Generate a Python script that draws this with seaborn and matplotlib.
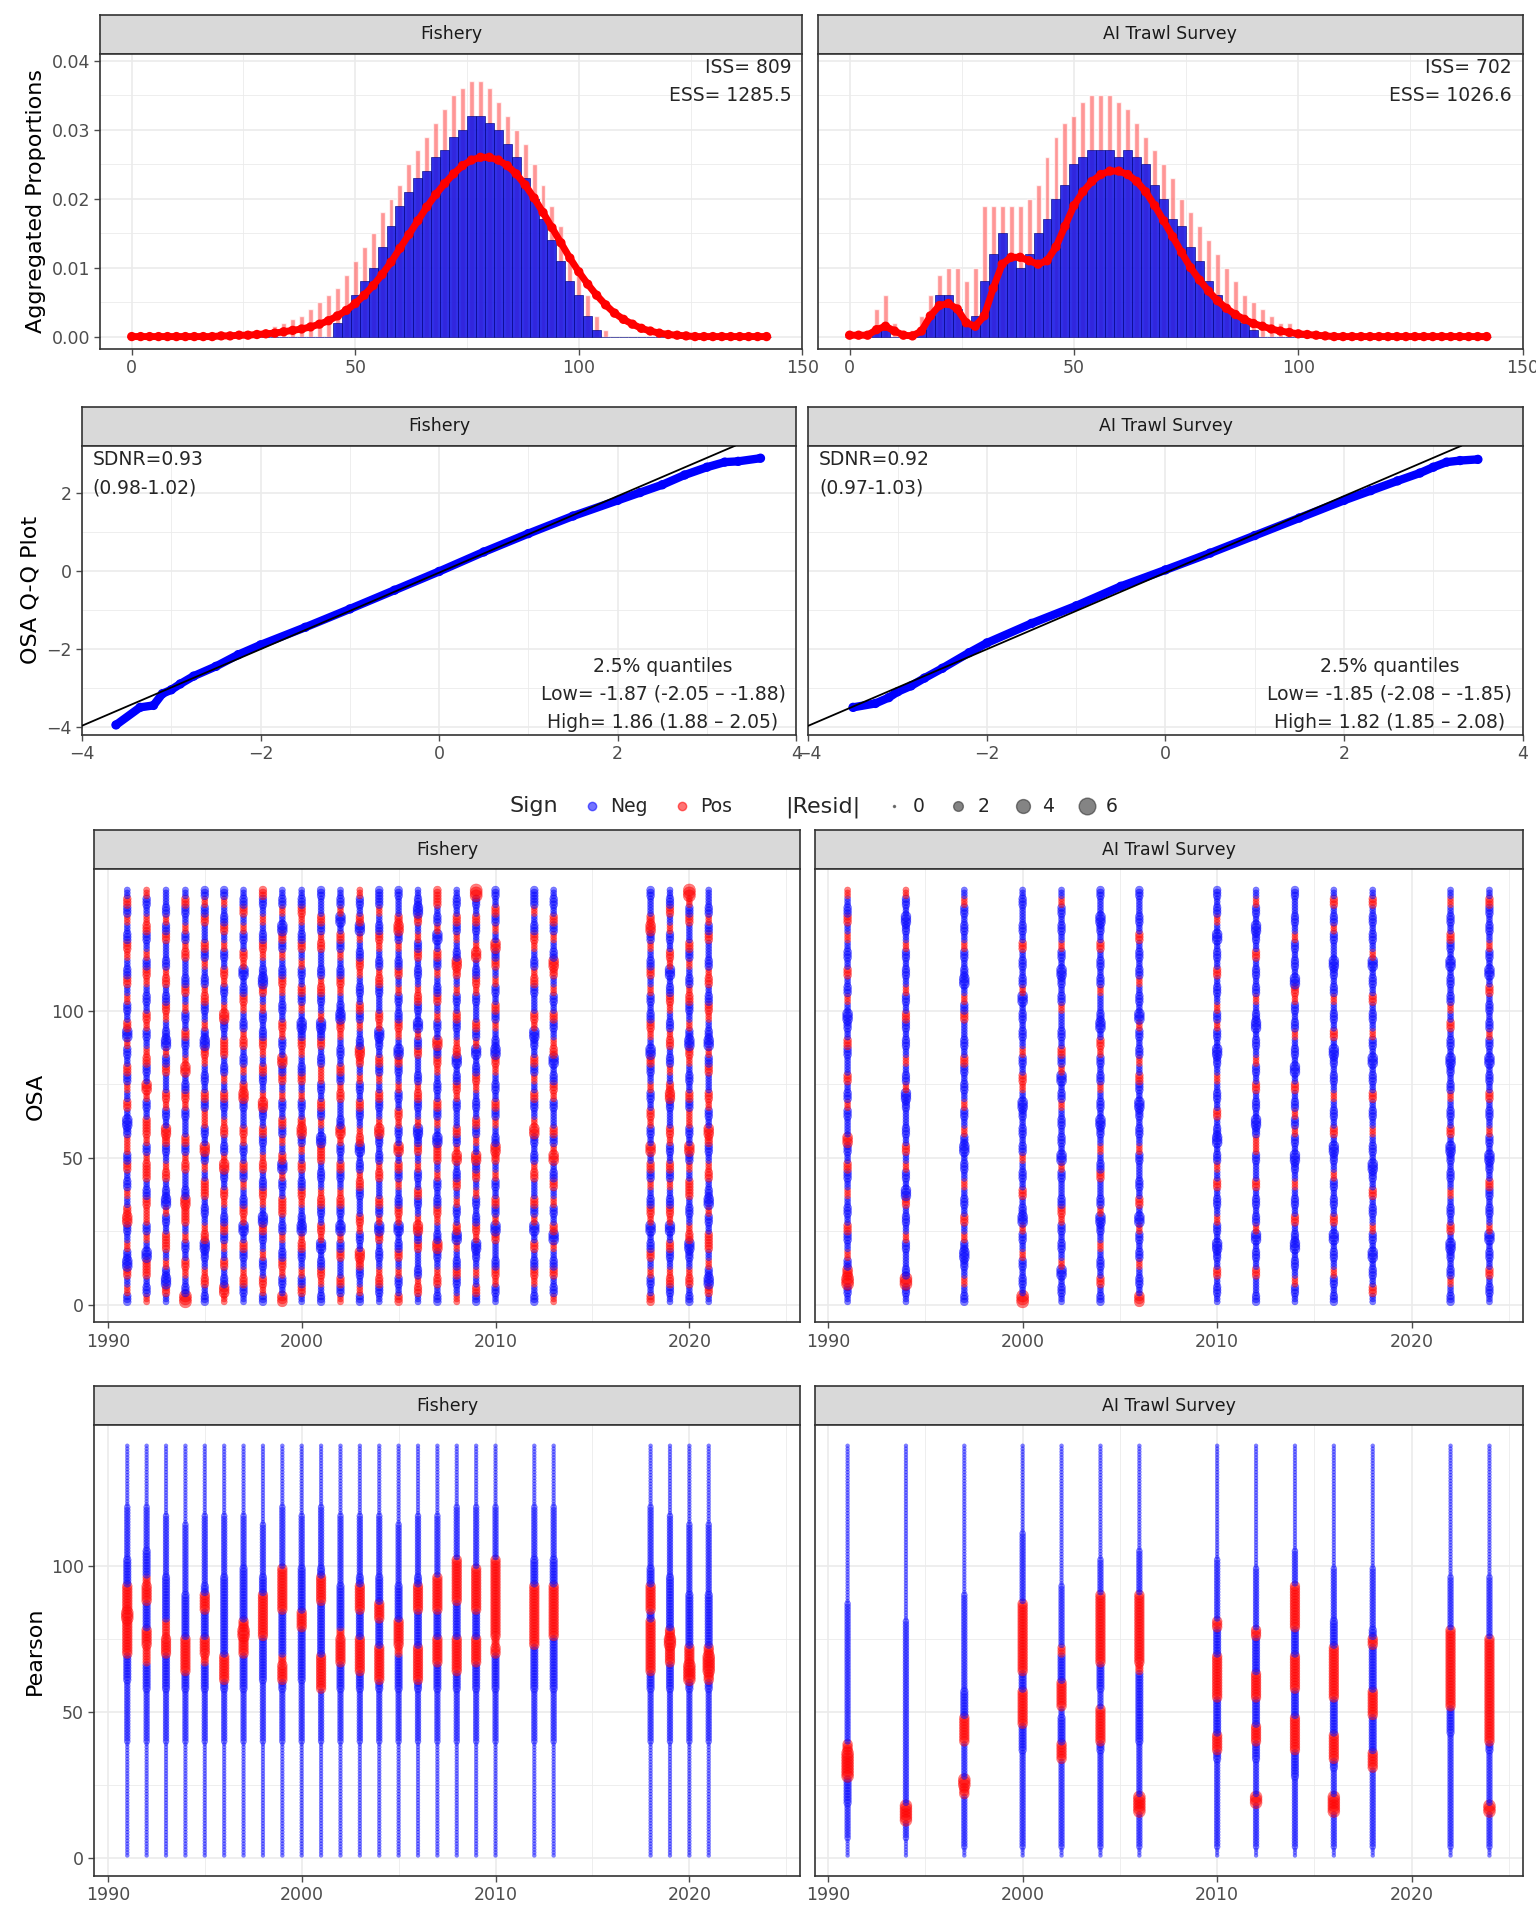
import numpy as np
import pandas as pd
import matplotlib
matplotlib.use("Agg")
import matplotlib.pyplot as plt
import seaborn as sns
from matplotlib.lines import Line2D

# ---------------- data ----------------
len_bins = np.arange(0, 143, 2)

fish_obs = [0]*23 + [0.002, 0.004, 0.006, 0.008, 0.01, 0.013, 0.016, 0.019, 0.021, 0.023, 0.024, 0.026,
                     0.027, 0.029, 0.03, 0.032, 0.032, 0.031, 0.03, 0.028, 0.026, 0.023, 0.02, 0.017,
                     0.014, 0.011, 0.008, 0.006, 0.003, 0.001] + [0]*19
fish_hi = [0]*14 + [0.0005, 0.001, 0.0015, 0.002, 0.0025, 0.003, 0.004, 0.005, 0.006, 0.007, 0.009, 0.011,
                    0.013, 0.015, 0.018, 0.02, 0.022, 0.025, 0.027, 0.029, 0.031, 0.033, 0.035, 0.036,
                    0.037, 0.037, 0.036, 0.034, 0.032, 0.03, 0.028, 0.025, 0.022, 0.019, 0.016, 0.012,
                    0.009, 0.006, 0.003, 0.001] + [0]*18
fish_pred = [0]*10 + [0.0001, 0.0001, 0.0002, 0.0002, 0.0003, 0.0004, 0.0005, 0.0007, 0.0009, 0.0011,
                      0.0014, 0.0018, 0.0023, 0.003, 0.0038, 0.0048, 0.006, 0.0074, 0.009, 0.0108, 0.0128,
                      0.0148, 0.0168, 0.0188, 0.0206, 0.0222, 0.0236, 0.0248, 0.0256, 0.026, 0.026, 0.0256,
                      0.0248, 0.0236, 0.022, 0.0201, 0.018, 0.0158, 0.0136, 0.0114, 0.0094, 0.0076, 0.006,
                      0.0046, 0.0034, 0.0025, 0.0018, 0.0012, 0.0008, 0.0005, 0.0003, 0.0002, 0.0001] + [0]*9

srv_obs = [0, 0, 0, 0.001, 0.001, 0, 0, 0, 0.001, 0.003, 0.006, 0.006, 0.004, 0.002, 0.003, 0.008, 0.012,
           0.015, 0.012, 0.01, 0.012, 0.015, 0.017, 0.02, 0.022, 0.025, 0.026, 0.027, 0.027, 0.027, 0.026,
           0.027, 0.026, 0.025, 0.022, 0.02, 0.017, 0.016, 0.013, 0.011, 0.008, 0.006, 0.004, 0.003, 0.002,
           0.001] + [0]*26
srv_hi = [0, 0, 0, 0.004, 0.006, 0.002, 0.001, 0.001, 0.003, 0.006, 0.009, 0.01, 0.01, 0.008, 0.01, 0.019,
          0.019, 0.019, 0.019, 0.019, 0.02, 0.022, 0.026, 0.029, 0.031, 0.032, 0.034, 0.035, 0.035, 0.035,
          0.034, 0.033, 0.031, 0.029, 0.027, 0.025, 0.023, 0.02, 0.018, 0.016, 0.014, 0.012, 0.01, 0.008,
          0.006, 0.005, 0.004, 0.003, 0.002, 0.002, 0.001, 0.001, 0.0005, 0.0003] + [0]*18
srv_pred = [0.0002, 0.0002, 0.0002, 0.001, 0.0015, 0.0008, 0.0002, 0.0001, 0.0008, 0.003, 0.0045, 0.0048,
            0.004, 0.002, 0.0015, 0.003, 0.007, 0.0105, 0.0115, 0.0115, 0.011, 0.0105, 0.011, 0.013, 0.016,
            0.019, 0.021, 0.0225, 0.0235, 0.024, 0.024, 0.0235, 0.0225, 0.021, 0.019, 0.0168, 0.0145,
            0.0122, 0.01, 0.0082, 0.0066, 0.0052, 0.0041, 0.0032, 0.0025, 0.0019, 0.0015, 0.0011, 0.0008,
            0.0006, 0.0004, 0.0003, 0.0002, 0.0001] + [0]*18

fish_qq_x = [-3.62, -3.35, -3.2, -3.1, -3.0, -2.9, -2.75, -2.5, -2.25, -2.0, -1.5, -1.0, -0.5, 0.0, 0.5,
             1.0, 1.5, 2.0, 2.25, 2.5, 2.75, 3.0, 3.2, 3.35, 3.6]
fish_qq_y = [-3.95, -3.5, -3.45, -3.15, -3.05, -2.9, -2.7, -2.45, -2.15, -1.9, -1.45, -0.98, -0.5, -0.02,
             0.48, 0.95, 1.4, 1.8, 2.0, 2.2, 2.45, 2.65, 2.78, 2.8, 2.88]
srv_qq_x = [-3.5, -3.25, -3.1, -3.0, -2.85, -2.7, -2.5, -2.2, -2.0, -1.5, -1.0, -0.5, 0.0, 0.5, 1.0, 1.5,
            2.0, 2.3, 2.6, 2.85, 3.0, 3.15, 3.3, 3.5]
srv_qq_y = [-3.5, -3.4, -3.25, -3.1, -2.95, -2.75, -2.5, -2.1, -1.85, -1.35, -0.9, -0.4, 0.02, 0.45, 0.9,
            1.35, 1.8, 2.05, 2.3, 2.5, 2.65, 2.78, 2.82, 2.85]

fish_years = list(range(1991, 2011)) + [2012, 2013, 2018, 2019, 2020, 2021]
srv_years = [1991, 1994, 1997, 2000, 2002, 2004, 2006, 2010, 2012, 2014, 2016, 2018, 2022, 2024]

# residual codes per 3-cm block: lowercase = Neg, uppercase = Pos, letter = magnitude
magnitude = {"a": 0.25, "b": 0.7, "c": 1.2, "d": 2.0, "e": 3.0}

fish_osa = [
    "cBbCdcBbcDCbBcbCcBBcdbCbBcCbcBdCbcBbCcbBCcbBcCb",
    "BcbCCdbBcBBCcbCCBcBCCbcBDbcCBbcBCbcbBCcBbcCBbcB",
    "bCdcBbCCbcBdcbCBbcCDbcBCbbCcBdcbBCcbCBcbbCcBcbb",
    "EcbBCbcBbCCDcbbCBcCbbcBCcbDBbcCbcBbCcbbCBcBbcCb",
    "cbCBbcdCBbcbCCbBcDbcBBcCbcbBCdcBbcCBcbBcCbbCcBc",
    "BDcbCbBcCcbBCbcDBcbCBbcCbBcbCCbcDBbcBCbcBbCcbBc",
    "bcCBbcCbdBCcbBcCbcBCbbcDCbBcbCBcbBCcbdBCbcBbCcb",
    "cBCbcBbcCdbBCcbCBbcCbcDBbcCbBCcbcBbCdcbBCcbBbcC",
    "DbcBCcbBcbCCbcBdCbBcCbcBbCcDbcBCbcbBCcbBcCdbBcb",
    "bCcBbcCBdcbBCcbCbBcDCbcBbCcbBCcdbBcCbcBbCcbBCcb",
    "cbBCcbdBCbcCBbcbCCdbBcCbcBBcbCcdBbcCBcbbCBcCbbc",
    "BcCbbCcBdbcCBbcCbcBDcbbCBcCbcbBCdcbBCcbBcCbdBcb",
    "cBbcCDbcBCbbcCBcbdCBbcCbcBbCDcbBcCbcbBCcbBdCbcB",
    "bcCBbcbCdBcCbbCBcbcDBbcCbBcCbcdBCbbcCBcbBCcbBcc",
    "CbcBbCcbdBCcbBcCbDbcBCbcBbcCdbBCcbcBbCcbBcDCbbc",
    "bCBcbbCcDBbcCbcBbCcdBbcCBcbbCcBdbcCBbcbCcBbCdcb",
    "cbCBbcDcbBCcbcBbCCdbBcCbcbBCcDbcBbCcbBcCbdBcbCC",
    "BbcCcbBdCbcBbCcbDBcCbbcBCcbdCBbcCbcBbCDcbBcCbcb",
    "cCbBbcdBCcbcBbCcDbBcCbcbBCcbdBcCbbcBCcbDBbcCbcE",
    "bcBCcbbCdBcCbcBbCDcbBcCbcbBCdcbBcCbcBbCcDbBcCbc",
    "cbBCcbCbdBcCbbCBcbcDBbcCbBcCbcdBCbbcCBcbBCcbBcc",
    "BcbCcbBdCbcBbCcbDBcCbbcBCcbdCBbcCbcBbCDcbBcCbcb",
    "CbcBbCcbdBCcbBcCbDbcBCbcBbcCdbBCcbcBbCcbBcDCbbc",
    "bcCBbcCbdBCcbBcCbcBCbbcDCbBcbCBcbBCcbdBCbcBbCcb",
    "cbCBbcdCBbcbCCbBcDbcBBcCbcbBCdcBbcCBcbBcCbbCcBE",
    "bCdcBbCCbcBdcbCBbcCDbcBCbbCcBdcbBCcbCBcbbCcBcbb",
]
srv_osa = [
    "bcEDcBbcCbcbBbcCbcDbbcBcbCbbcCbcdbBcbCbcbBbCcbB",
    "bcEcbbcBbcbCdbcBbCbcbbcdBcbBbcbcCbcBbcbcBbcdbcB",
    "cbBbcdcBbCbcbBbcbdcBbcBbcbcCbcbbCcBbdcbcBbcbcBb",
    "EbcbcBbcBdcbCbcbBcbcbcdbBCbcBbcbcbdBcbcbCbcbbcb",
    "bcbdBbcbcBCcbbcBdbcbcbBcbdBcCbcbbBcbcdbcBbcbcBb",
    "cbCbcbBbcdBcbbCcbBbcdbcbBcbcBCbdcbbBcbcbCbcdbbc",
    "DbcbBcbcBdbCbcbbcBbcbcdbcCbBcbcBdbcbBcbcbCbcbbc",
    "bcbCbcdbcBbcbCbBcbdcbCbcbBbcdbcBcBbcbCbcbdbBcbc",
    "cbbCbcbdBcbcbCbbcBBcdbcbCbcBbcbdcbBcbcbCbcdbcBb",
    "bcBbcbdcbCbcbBbcdbcBcBcbCbdbcbBcbcBCdbcbcBbcbbc",
    "cbcBbcbdbCbcbcBbcdbCbcbBbcbcdbCbcbBcbcdbbcBcbCb",
    "bCbcbdbcBbcbCbcdbcbBbcbCbcbdbcBbcbCbcbdBbcbcbCb",
    "cbBcbcdbCbcbBbcbcdbCbcbBcbcdbcbCbBcbcbdbcCbcbBb",
    "bcbCbcbdBbcbcCbcdbcBbcbCbcbdbcBcbcbCbdbcBbcbcCb",
]
fish_prs = [
    "aaaaaaaaaaaaabbbbbbbcccDDDDEDDDcccbbbbbbaaaaaaa",
    "aaaaaaaaaaaaabbbbbbcccCCDDcccDDCcccbbbbbaaaaaaa",
    "aaaaaaaaaaaaabbbbbbccccDDCCcccccbbbbbbbaaaaaaaa",
    "aaaaaaaaaaaaabbbbbbccDDDDcccccbbbbbbbbaaaaaaaaa",
    "aaaaaaaaaaaaabbbbbbcccCDDcccDDcbbbbbbbbaaaaaaaa",
    "aaaaaaaaaaaaabbbbbbcDDDcccccccccbbbbbbbaaaaaaaa",
    "aaaaaaaaaaaaabbbbbbccccDDEDccccccbbbbbbaaaaaaaa",
    "aaaaaaaaaaaaabbbbbbbcccccDDDDDccbbbbbbaaaaaaaaa",
    "aaaaaaaaaaaaabbbbbbcDDCcccccDDDDDbbbbbbbaaaaaaa",
    "aaaaaaaaaaaaabbbbbbbccccccDDcccccbbbbbbaaaaaaaa",
    "aaaaaaaaaaaaabbbbbbDDDDccccccDDDcbbbbbbbaaaaaaa",
    "aaaaaaaaaaaaabbbbbbcccDDDCcccccbbbbbbbbaaaaaaaa",
    "aaaaaaaaaaaaabbbbbbccDDDDcccDDDcbbbbbbbaaaaaaaa",
    "aaaaaaaaaaaaabbbbbbcDDDDcccDDcccbbbbbbbaaaaaaaa",
    "aaaaaaaaaaaaabbbbbbccccCDDDccccbbbbbbbaaaaaaaaa",
    "aaaaaaaaaaaaabbbbbbcDDDDccccDDDcbbbbbbbaaaaaaaa",
    "aaaaaaaaaaaaabbbbbbcccDDDcccDDDDbbbbbbbaaaaaaaa",
    "aaaaaaaaaaaaabbbbbbccDDDDccccDDDDDbbbbbbaaaaaaa",
    "aaaaaaaaaaaaabbbbbbcccDDDcccDDDDDbbbbbbbaaaaaaa",
    "aaaaaaaaaaaaabbbbbbccccDCDDDDDDDDDbbbbbbaaaaaaa",
    "aaaaaaaaaaaaabbbbbbcccccDDDDDDDcccbbbbbbaaaaaaa",
    "aaaaaaaaaaaaabbbbbbccccccDDDDDDcccbbbbbbaaaaaaa",
    "aaaaaaaaaaaaabbbbbbccDDDDDDcDDDccbbbbbbbaaaaaaa",
    "aaaaaaaaaaaaabbbbbbcccDDEDccccccbbbbbbbaaaaaaaa",
    "aaaaaaaaaaaaabbbbbbcEEDDccccccbbbbbbbbaaaaaaaaa",
    "aaaaaaaaaaaaabbbbbbcDEEDccccccbbbbbbbbaaaaaaaaa",
]
srv_prs = [
    "aabbbbcccEEEDbbbbbbbbbbbbbbbbaaaaaaaaaaaaaaaaaa",
    "aabbEEbbbbbbbbbbbbbbbbbbbbbaaaaaaaaaaaaaaaaaaaa",
    "abbbbbbDEbbbbDDDcccbbbbbbbbbbbaaaaaaaaaaaaaaaaa",
    "abbbbbbbbbbbcccDDDDccDDDDDDDDbbbbbbbbaaaaaaaaaa",
    "abbbbbbbbbbDDcccbDDDcccCbbbbbbbaaaaaaaaaaaaaaaa",
    "abbbbbbbbbbbcDDDDbbcccDDDDDDDDbbbbaaaaaaaaaaaaa",
    "abbbbEEbbbbbbccccccccCDDDDDDDDbbbbbaaaaaaaaaaaa",
    "abbbbbbbbbbcDDccccDDDDDcccDbbbbbbbaaaaaaaaaaaaa",
    "abbbbbEbbbbccDDcccDDDccccDbbbbbbbaaaaaaaaaaaaaa",
    "abbbbbbbbcccDDDDcccDDDDcccDDDDDbbbbaaaaaaaaaaaa",
    "abbbbEEbbbcDDDccccDDDDDDcccbbbbbbaaaaaaaaaaaaaa",
    "abbbbbbbbbDDccccDDDcccccDcbbbbbbbaaaaaaaaaaaaaa",
    "abbbbbbbbbbbbbcccDDDDDDDDDbbbbbbaaaaaaaaaaaaaaa",
    "abbbbEbbbbbbcDDDDDDDDDDDDbbbbbbbaaaaaaaaaaaaaaa",
]


def resid_frame(years, codes):
    rows = []
    for yr, code in zip(years, codes):
        for i, ch in enumerate(code):
            for k in range(3):
                ln = 3 * i + 1 + k
                if ln > 141:
                    continue
                rows.append((yr, ln, "Pos" if ch.isupper() else "Neg", magnitude[ch.lower()]))
    return pd.DataFrame(rows, columns=["year", "length", "sign", "resid"])


# ---------------- style ----------------
sns.set_theme(style="whitegrid")
plt.rcParams["font.family"] = ["DejaVu Sans"]
GRID = "#EBEBEB"
BORDER = "#333333"
pal = {"Neg": "#0000FF", "Pos": "#FF0000"}

fig = plt.figure(figsize=(15.36, 19.2), dpi=100)
W, H = 1254.0, 1568.0


def rect(x0, x1, y0, y1):
    return [x0 / W, 1 - y1 / H, (x1 - x0) / W, (y1 - y0) / H]


def panel(x0, x1, ys, yp0, yp1, label):
    st = fig.add_axes(rect(x0, x1, ys, yp0))
    st.set_facecolor("#D9D9D9")
    st.set_xticks([]); st.set_yticks([])
    for s in st.spines.values():
        s.set_color(BORDER); s.set_linewidth(1.2)
    st.text(0.5, 0.5, label, ha="center", va="center", fontsize=12.5, color="#1A1A1A")
    ax = fig.add_axes(rect(x0, x1, yp0, yp1))
    ax.set_facecolor("white")
    for s in ax.spines.values():
        s.set_color(BORDER); s.set_linewidth(1.2)
    ax.tick_params(labelsize=12.5, colors="#4D4D4D", length=4, width=1, left=True, bottom=True)
    ax.grid(True, which="major", color=GRID, lw=1.2)
    ax.grid(True, which="minor", color=GRID, lw=0.6)
    return ax


def finish(ax, xlim, xt, ylim, yt, ylabel=None, left=True):
    ax.set_xlim(*xlim); ax.set_ylim(*ylim)
    ax.set_xticks(xt); ax.set_yticks(yt)
    ax.set_xticks([(a + b) / 2 for a, b in zip(xt[:-1], xt[1:])], minor=True)
    ax.set_yticks([(a + b) / 2 for a, b in zip(yt[:-1], yt[1:])], minor=True)
    ax.tick_params(which="minor", length=0)
    ax.set_xlabel("")
    ax.set_ylabel(ylabel if ylabel else "", fontsize=16, color="black")
    if not left:
        ax.tick_params(axis="y", labelleft=False, left=False)


# ---- row 1: aggregated proportions ----
comps = [("Fishery", fish_obs, fish_hi, fish_pred, "ISS= 809\nESS= 1285.5", (82, 655)),
         ("AI Trawl Survey", srv_obs, srv_hi, srv_pred, "ISS= 702\nESS= 1026.6", (668, 1243))]
for j, (lab, obs, hi, pred, txt, (x0, x1)) in enumerate(comps):
    ax = panel(x0, x1, 12, 44, 285, lab)
    ax.bar(len_bins, hi, width=1.1, color="#FF6A6A", alpha=0.7, zorder=2)
    ax.bar(len_bins, obs, width=2.0, color="#1A1AE6", edgecolor="#000080", lw=0.5, alpha=0.9, zorder=3)
    sns.lineplot(x=len_bins, y=pred, color="red", lw=5, ax=ax, zorder=4)
    sns.scatterplot(x=len_bins, y=pred, color="red", s=45, edgecolor="none", ax=ax, zorder=5)
    ax.text(0.985, 0.985, txt, transform=ax.transAxes, ha="right", va="top", fontsize=13.5,
            linespacing=1.6)
    finish(ax, (-7, 150), [0, 50, 100, 150], (-0.0018, 0.041), [0, 0.01, 0.02, 0.03, 0.04],
           "Aggregated Proportions" if j == 0 else None, left=(j == 0))
    if j == 0:
        ax.set_yticklabels(["0.00", "0.01", "0.02", "0.03", "0.04"])

# ---- row 2: QQ ----
qqs = [("Fishery", fish_qq_x, fish_qq_y, "SDNR=0.93\n(0.98-1.02)",
        "2.5% quantiles\nLow= -1.87 (-2.05 – -1.88)\nHigh= 1.86 (1.88 – 2.05)", (67, 650)),
       ("AI Trawl Survey", srv_qq_x, srv_qq_y, "SDNR=0.92\n(0.97-1.03)",
        "2.5% quantiles\nLow= -1.85 (-2.08 – -1.85)\nHigh= 1.82 (1.85 – 2.08)", (660, 1243))]
for j, (lab, qx, qy, t1, t2, (x0, x1)) in enumerate(qqs):
    ax = panel(x0, x1, 332, 364, 600, lab)
    sns.lineplot(x=qx, y=qy, color="blue", lw=6, ax=ax, zorder=3, sort=False)
    sns.scatterplot(x=qx, y=qy, color="blue", s=45, edgecolor="none", ax=ax, zorder=4)
    ax.axline((0, -0.05), slope=0.98, color="black", lw=1.3, zorder=5)
    ax.text(0.015, 0.985, t1, transform=ax.transAxes, ha="left", va="top", fontsize=13.5, linespacing=1.6)
    ax.text(0.985, 0.01, t2, transform=ax.transAxes, ha="right", va="bottom", fontsize=13.5,
            linespacing=1.6, multialignment="center")
    finish(ax, (-4, 4), [-4, -2, 0, 2, 4], (-4.2, 3.2), [-4, -2, 0, 2],
           "OSA Q-Q Plot" if j == 0 else None, left=(j == 0))

# ---- rows 3/4: bubble plots ----
rows = [("OSA", fish_osa, srv_osa, 678, 710, 1080), ("Pearson", fish_prs, srv_prs, 1132, 1164, 1532)]
for name, fcodes, scodes, ys, y0, y1 in rows:
    for j, (lab, yrs, codes, (x0, x1)) in enumerate([("Fishery", fish_years, fcodes, (77, 653)),
                                                      ("AI Trawl Survey", srv_years, scodes, (665, 1243))]):
        ax = panel(x0, x1, ys, y0, y1, lab)
        df = resid_frame(yrs, codes)
        sns.scatterplot(data=df, x="year", y="length", hue="sign", size="resid", palette=pal,
                        sizes=(2, 150), size_norm=(0, 6), alpha=0.5, edgecolor=None,
                        legend=False, ax=ax, zorder=3)
        finish(ax, (1989.3, 2025.7), [1990, 2000, 2010, 2020], (-6, 148), [0, 50, 100],
               name if j == 0 else None, left=(j == 0))
        ax.set_xticks([1995, 2005, 2015, 2025], minor=True)

# legend
handles = [Line2D([], [], ls="none", label="Sign"),
           Line2D([], [], ls="none", marker="o", ms=6, color="#0000FF", alpha=0.55, label="Neg"),
           Line2D([], [], ls="none", marker="o", ms=6, color="#FF0000", alpha=0.55, label="Pos"),
           Line2D([], [], ls="none", label="|Resid|"),
           Line2D([], [], ls="none", marker="o", ms=1.5, color="#333333", alpha=0.6, label="0"),
           Line2D([], [], ls="none", marker="o", ms=7, color="#333333", alpha=0.6, label="2"),
           Line2D([], [], ls="none", marker="o", ms=10, color="#333333", alpha=0.6, label="4"),
           Line2D([], [], ls="none", marker="o", ms=12, color="#333333", alpha=0.6, label="6")]
leg = fig.legend(handles=handles, loc="center", bbox_to_anchor=(0.52, 1 - 659 / H), ncol=8,
                 frameon=False, fontsize=13.5, handletextpad=0.4, columnspacing=1.2, handlelength=1.2)
for t in leg.get_texts():
    if t.get_text() in ("Sign", "|Resid|"):
        t.set_fontsize(16)

fig.savefig("out.png", dpi=100)
